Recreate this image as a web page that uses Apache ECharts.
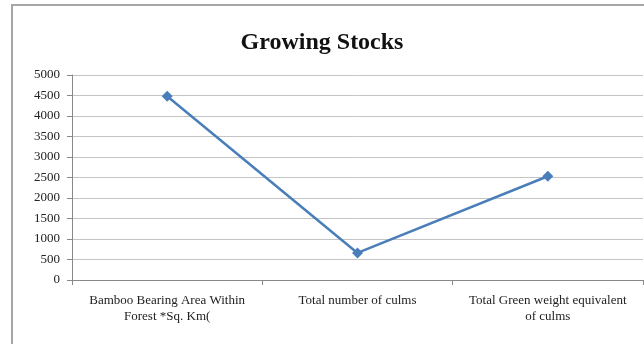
<!DOCTYPE html>
<html><head><meta charset="utf-8">
<script src="https://cdn.jsdelivr.net/npm/echarts@6/dist/echarts.min.js"></script>
<style>html,body{margin:0;padding:0;background:#fff}#c{width:644px;height:344px}</style>
</head><body><div id="c"></div>
<script>
var categories = ["Bamboo Bearing Area Within\nForest *Sq. Km(", "Total number of culms", "Total Green weight equivalent\nof culms"];
var values = [4480, 660, 2530];
var title = "Growing Stocks";

var chart = echarts.init(document.getElementById('c'), null, {renderer: 'canvas'});
chart.setOption({
  animation: false,
  backgroundColor: '#fff',
  graphic: [{type: 'rect', shape: {x: 12, y: 5, width: 640, height: 345}, style: {fill: 'none', stroke: '#a6a6a6', lineWidth: 2}, silent: true}],
  title: {text: title, left: 'center', top: 26, textStyle: {fontFamily: 'Liberation Serif', fontSize: 24, fontWeight: 'bold', color: '#111'}},
  grid: {left: 72, right: 1, top: 75, bottom: 64},
  xAxis: {type: 'category', data: categories, boundaryGap: true,
    axisLine: {lineStyle: {color: '#888', width: 1}},
    axisTick: {show: true, length: 5, lineStyle: {color: '#888'}},
    axisLabel: {fontFamily: 'Liberation Serif', fontSize: 13, color: '#222', margin: 13, lineHeight: 16, interval: 0}},
  yAxis: {type: 'value', min: 0, max: 5000, interval: 500,
    axisLine: {show: true, lineStyle: {color: '#888'}},
    axisTick: {show: true, length: 5, lineStyle: {color: '#888'}},
    axisLabel: {fontFamily: 'Liberation Serif', fontSize: 13, color: '#222', margin: 12, formatter: function (v) { return String(v); }},
    splitLine: {lineStyle: {color: '#c4c4c4'}}},
  series: [{type: 'line', data: values, symbol: 'diamond', symbolSize: 11,
    lineStyle: {color: '#4a7ebb', width: 2.5}, itemStyle: {color: '#4a7ebb'}}]
});
</script></body></html>
